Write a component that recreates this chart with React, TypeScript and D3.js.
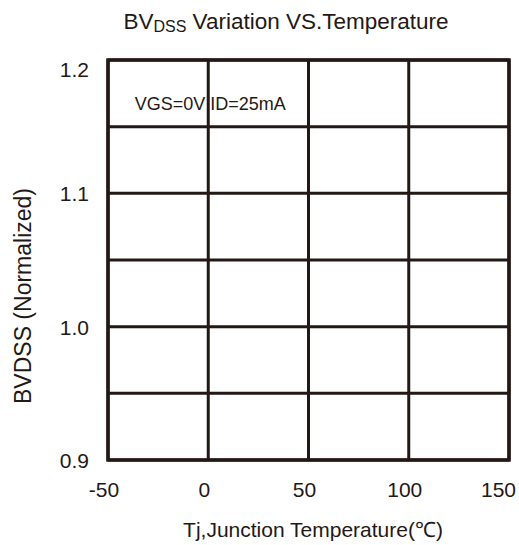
import React from "react";
import * as d3 from "d3";

const xTicks = [-50, 0, 50, 100, 150];
const yGrid = [0.9, 0.95, 1.0, 1.05, 1.1, 1.15, 1.2];
const yLabels = [0.9, 1.0, 1.1, 1.2];
const titleMain = "BV";
const titleSub = "DSS";
const titleRest = " Variation VS.Temperature";
const xTitle = "Tj,Junction Temperature(℃)";
const yTitle = "BVDSS (Normalized)";
const noteParts = ["VGS=0V", "ID=25mA"];

const W = 519;
const H = 545;
const FONT = "'Liberation Sans', Arial, sans-serif";
const INK = "#231815";

export default function App() {
  const x = d3.scaleLinear().domain([-50, 150]).range([108, 509]);
  const y = d3.scaleLinear().domain([0.9, 1.2]).range([460, 60]);
  return (
    <svg
      width={W}
      height={H}
      style={{ position: "absolute", left: 0, top: 0, background: "#fff" }}
      fontFamily={FONT}
    >
      <rect x={0} y={0} width={W} height={H} fill="#fff" />
      <text x={286} y={29} textAnchor="middle" fontSize={22.5} fill={INK}>
        <tspan>{titleMain}</tspan>
        <tspan fontSize={16} dy={3}>{titleSub}</tspan>
        <tspan dy={-3}>{titleRest}</tspan>
      </text>
      {yGrid.map((v) => (
        <line key={"h" + v} x1={x(-50)} x2={x(150)} y1={y(v)} y2={y(v)} stroke={INK} strokeWidth={3} />
      ))}
      {xTicks.map((v) => (
        <line key={"v" + v} x1={x(v)} x2={x(v)} y1={y(0.9)} y2={y(1.2)} stroke={INK} strokeWidth={3} />
      ))}
      <rect
        x={x(-50)}
        y={y(1.2)}
        width={x(150) - x(-50)}
        height={y(0.9) - y(1.2)}
        fill="none"
        stroke={INK}
        strokeWidth={3.5}
      />
      {yLabels.map((v) => (
        <text
          key={"yl" + v}
          x={89}
          y={y(v) + (v === 1.2 ? 17 : 8)}
          textAnchor="end"
          fontSize={21}
          fill={INK}
        >
          {v.toFixed(1)}
        </text>
      ))}
      {xTicks.map((v, i) => (
        <text
          key={"xl" + v}
          x={x(v) + (i === xTicks.length - 1 ? -10.5 : -4)}
          y={497}
          textAnchor="middle"
          fontSize={21}
          fill={INK}
        >
          {v}
        </text>
      ))}
      <text y={110} fontSize={18} fill={INK}>
        <tspan x={x(0) - 3} textAnchor="end">{noteParts[0]}</tspan>
        <tspan x={x(0) + 2} textAnchor="start">{noteParts[1]}</tspan>
      </text>
      <text x={313} y={537} textAnchor="middle" fontSize={21} fill={INK}>
        {xTitle}
      </text>
      <text
        transform={`translate(31,296) rotate(-90)`}
        textAnchor="middle"
        fontSize={23}
        fill={INK}
      >
        {yTitle}
      </text>
    </svg>
  );
}
